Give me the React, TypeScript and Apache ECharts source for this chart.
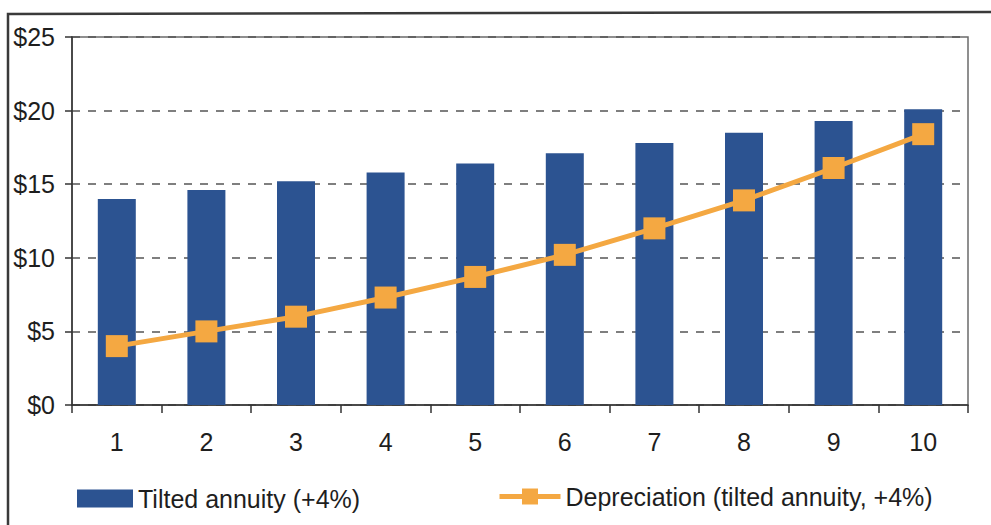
import React, { useEffect, useRef } from "react";
import * as echarts from "echarts";

// Years of the asset's life
const years = ["1", "2", "3", "4", "5", "6", "7", "8", "9", "10"];
// Annual charge under a tilted annuity (+4% per year), $
const tiltedAnnuity = [14.0, 14.6, 15.2, 15.8, 16.4, 17.1, 17.8, 18.5, 19.3, 20.1];
// Depreciation component of the tilted annuity, $
const depreciation = [4.0, 5.0, 6.0, 7.3, 8.7, 10.2, 12.0, 13.9, 16.1, 18.4];
// Value-axis ticks
const yTicks = [0, 5, 10, 15, 20, 25];

const barName = "Tilted annuity (+4%)";
const lineName = "Depreciation (tilted annuity, +4%)";

const FONT = "'Liberation Sans', Arial, sans-serif";
const BLUE = "#2C5391";
const ORANGE = "#F4A842";
const TEXT = "#1e1e1e";

export default function App() {
  const ref = useRef<HTMLDivElement>(null);

  useEffect(() => {
    if (!ref.current) return;
    const chart = echarts.init(ref.current, undefined, { renderer: "svg" });
    chart.setOption({
      animation: false,
      backgroundColor: "#ffffff",
      textStyle: { fontFamily: FONT },
      graphic: [
        {
          type: "polyline",
          shape: { points: [[8, 525], [8, 14], [991, 12]] },
          style: { stroke: "#3a3a3a", lineWidth: 2.5, fill: "none" },
          silent: true,
        },
      ],
      grid: {
        left: 72,
        top: 37,
        right: 23,
        bottom: 120,
        show: true,
        borderColor: "#6b6b6b",
        borderWidth: 1.5,
        backgroundColor: "transparent",
      },
      legend: [
        {
          data: [{ name: barName, icon: "rect" }],
          left: 72,
          top: 481,
          itemWidth: 56,
          itemHeight: 18,
          textStyle: { fontSize: 25, color: TEXT, fontFamily: FONT },
        },
        {
          data: [lineName],
          left: 492,
          top: 479,
          itemWidth: 61,
          itemHeight: 20,
          lineStyle: { width: 5 },
          textStyle: { fontSize: 25, color: TEXT, fontFamily: FONT },
        },
      ],
      xAxis: {
        type: "category",
        data: years,
        boundaryGap: true,
        axisLine: { show: true, lineStyle: { color: "#333", width: 1.5 } },
        axisTick: { show: true, length: 8, lineStyle: { color: "#333", width: 1.5 } },
        axisLabel: { fontSize: 25, color: TEXT, margin: 24, fontFamily: FONT },
      },
      yAxis: {
        type: "value",
        min: yTicks[0],
        max: yTicks[yTicks.length - 1],
        interval: 5,
        axisLine: { show: true, lineStyle: { color: "#333", width: 1.5 } },
        axisTick: { show: true, length: 7, lineStyle: { color: "#333", width: 1.5 } },
        axisLabel: {
          fontSize: 25,
          color: TEXT,
          margin: 17,
          fontFamily: FONT,
          formatter: (v: number) => "$" + v,
        },
        splitLine: {
          show: true,
          lineStyle: { color: "#555", width: 1.5, type: [8, 8] },
        },
      },
      series: [
        {
          name: barName,
          type: "bar",
          data: tiltedAnnuity,
          barWidth: 38,
          itemStyle: { color: BLUE },
        },
        {
          name: lineName,
          type: "line",
          data: depreciation,
          symbol: "rect",
          symbolSize: 22,
          lineStyle: { color: ORANGE, width: 5 },
          itemStyle: { color: ORANGE, borderRadius: 2 },
        },
      ],
    });
    return () => chart.dispose();
  }, []);

  return (
    <div
      ref={ref}
      style={{ position: "fixed", left: 0, top: 0, width: 991, height: 525 }}
    />
  );
}
